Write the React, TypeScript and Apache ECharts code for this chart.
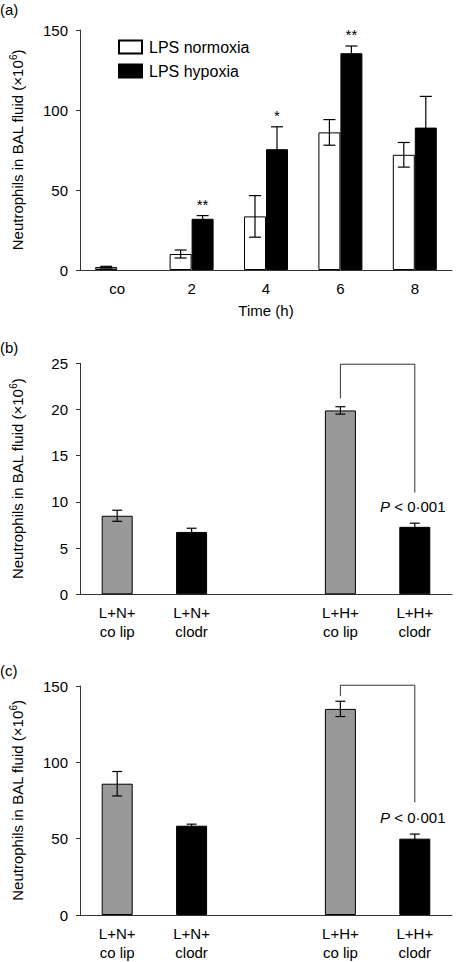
import React, { useEffect, useRef } from 'react';
import * as echarts from 'echarts';

// Panel (a)
const timeCategories = ['co', '2', '4', '6', '8'];
const normoxiaMean = [1.8, 10, 33.5, 86, 72];
const normoxiaErr = [0.5, 2.5, 13, 8, 7.7];
const hypoxiaMean = [null, 32, 75.5, 135.5, 89];
const hypoxiaErr = [null, 2, 14, 4.5, 19.5];
const hypoxiaSignificance = ['', '**', '*', '**', ''];
const panelATicks = [0, 150, 50];

// Panels (b) and (c)
const treatmentCategories = ['L+N+\nco lip', 'L+N+\nclodr', '', 'L+H+\nco lip', 'L+H+\nclodr'];
const treatmentGroup = ['co lip', 'clodr', '', 'co lip', 'clodr'];
const panelBMean = [8.5, 6.75, null, 19.9, 7.3];
const panelBErr = [0.6, 0.4, null, 0.4, 0.4];
const panelBSignificance = ['', '', '', '', 'P < 0·001'];
const panelBBracket = [3, 4, 21.2, 24.9, 11];
const panelBTicks = [0, 25, 5];

const panelCMean = [86, 58.5, null, 135, 50];
const panelCErr = [8, 1, null, 5, 3];
const panelCSignificance = ['', '', '', '', 'P < 0·001'];
const panelCBracket = [3, 4, 143.5, 150.5, 73.7];
const panelCTicks = [0, 150, 50];

const FONT = '"Liberation Sans", Arial, Helvetica, sans-serif';
const AXIS_COLOR = '#333';

const yName = '{a|Neutrophils in BAL fluid (×10}{s|6}{a|)}';
const yNameRich = {
  a: { fontSize: 15, fontFamily: FONT, color: '#000' },
  s: { fontSize: 10, fontFamily: FONT, color: '#000', padding: [0, 0, 8, 0] },
};

function errData(mean: (number | null)[], err: (number | null)[]) {
  return mean.map((m, i) =>
    m == null || err[i] == null ? [i, NaN, NaN] : [i, m - (err[i] as number), m + (err[i] as number)]
  );
}

function groupColor(g: string) {
  return g === 'co lip' ? '#999999' : '#000000';
}

function errSeries(idx: number, data: number[][], offset: number, capHalf: number, labels: string[]) {
  return {
    type: 'custom',
    xAxisIndex: idx,
    yAxisIndex: idx,
    clip: false,
    z: 5,
    encode: { x: 0, y: [1, 2] },
    data,
    renderItem: (params: any, api: any) => {
      const x = api.value(0);
      const lo = api.value(1);
      const hi = api.value(2);
      if (isNaN(lo) || isNaN(hi)) return null;
      const pt = api.coord([x, hi]);
      const pb = api.coord([x, lo]);
      const cx = pt[0] + offset;
      const ls = { stroke: '#000', lineWidth: 1.2 };
      const children: any[] = [
        { type: 'line', shape: { x1: cx, y1: pb[1], x2: cx, y2: pt[1] }, style: ls },
        { type: 'line', shape: { x1: cx - capHalf, y1: pt[1], x2: cx + capHalf, y2: pt[1] }, style: ls },
        { type: 'line', shape: { x1: cx - capHalf, y1: pb[1], x2: cx + capHalf, y2: pb[1] }, style: ls },
      ];
      const lab = labels[params.dataIndex];
      if (lab) {
        const isP = lab.startsWith('P');
        children.push({
          type: 'text',
          style: {
            text: isP ? '{i|P}' + lab.slice(1) : lab,
            x: cx - (isP ? 2 : 0),
            y: pt[1] - (isP ? 9 : 4),
            align: 'center',
            verticalAlign: 'bottom',
            fontSize: 15,
            fontFamily: FONT,
            fill: '#000',
            rich: { i: { fontStyle: 'italic', fontSize: 15, fontFamily: FONT, fill: '#000' } },
          },
        });
      }
      return { type: 'group', children };
    },
  };
}

function bracketSeries(idx: number, b: number[]) {
  return {
    type: 'custom',
    xAxisIndex: idx,
    yAxisIndex: idx,
    clip: false,
    z: 5,
    encode: { x: [0, 1], y: [2, 3, 4] },
    data: [b],
    renderItem: (_params: any, api: any) => {
      const p1 = api.coord([api.value(0), api.value(2)]);
      const p2 = api.coord([api.value(0), api.value(3)]);
      const p3 = api.coord([api.value(1), api.value(3)]);
      const p4 = api.coord([api.value(1), api.value(4)]);
      return {
        type: 'polyline',
        shape: { points: [p1, p2, p3, p4] },
        style: { stroke: AXIS_COLOR, lineWidth: 1, fill: 'none' },
      };
    },
  };
}

function yAxis(idx: number, ticks: number[]) {
  return {
    type: 'value',
    gridIndex: idx,
    min: ticks[0],
    max: ticks[1],
    interval: ticks[2],
    name: yName,
    nameLocation: 'middle',
    nameGap: 54,
    nameTextStyle: { rich: yNameRich },
    axisLine: { show: true, lineStyle: { color: AXIS_COLOR, width: 1 } },
    axisTick: { show: true, length: 4, lineStyle: { color: AXIS_COLOR } },
    axisLabel: { fontSize: 15, color: '#000', fontFamily: FONT, margin: 12 },
    splitLine: { show: false },
  };
}

function xAxis(idx: number, cats: string[], name?: string) {
  return {
    type: 'category',
    gridIndex: idx,
    data: cats,
    name: name || '',
    nameLocation: 'middle',
    nameGap: 33,
    nameTextStyle: { fontSize: 15, color: '#000', fontFamily: FONT },
    axisLine: { show: true, lineStyle: { color: AXIS_COLOR, width: 1 } },
    axisTick: { show: false },
    axisLabel: { fontSize: 15, color: '#000', fontFamily: FONT, margin: 9, lineHeight: 19, interval: 0 },
    splitLine: { show: false },
  };
}

function treatmentBars(idx: number, mean: (number | null)[]) {
  return {
    type: 'bar',
    name: 'panel' + idx,
    xAxisIndex: idx,
    yAxisIndex: idx,
    barWidth: 31,
    data: mean.map((v, i) => ({
      value: v,
      itemStyle: { color: groupColor(treatmentGroup[i]), borderColor: '#000', borderWidth: 1 },
    })),
  };
}

export default function App() {
  const ref = useRef<HTMLDivElement>(null);
  useEffect(() => {
    document.body.style.margin = '0';
    if (!ref.current) return;
    const chart = echarts.init(ref.current, null, { renderer: 'svg' });
    chart.setOption({
      animation: false,
      textStyle: { fontFamily: FONT },
      grid: [
        { left: 77, top: 30, width: 375, height: 240 },
        { left: 77, top: 363.3, width: 375, height: 231 },
        { left: 77, top: 686, width: 375, height: 230.7 },
      ],
      legend: {
        data: ['LPS normoxia', 'LPS hypoxia'],
        left: 113,
        top: 34,
        orient: 'vertical',
        itemWidth: 23,
        itemHeight: 13,
        itemGap: 8,
        icon: 'rect',
        textStyle: { fontSize: 16, color: '#000', fontFamily: FONT, padding: [0, 0, 0, 2] },
      },
      xAxis: [xAxis(0, timeCategories, 'Time (h)'), xAxis(1, treatmentCategories), xAxis(2, treatmentCategories)],
      yAxis: [yAxis(0, panelATicks), yAxis(1, panelBTicks), yAxis(2, panelCTicks)],
      graphic: [
        { type: 'text', left: 0, top: 2, style: { text: '(a)', fontSize: 15, fontFamily: FONT, fill: '#000' } },
        { type: 'text', left: 0, top: 340, style: { text: '(b)', fontSize: 15, fontFamily: FONT, fill: '#000' } },
        { type: 'text', left: 0, top: 663, style: { text: '(c)', fontSize: 15, fontFamily: FONT, fill: '#000' } },
      ],
      series: [
        {
          type: 'bar',
          name: 'LPS normoxia',
          xAxisIndex: 0,
          yAxisIndex: 0,
          barWidth: 22,
          barGap: '0%',
          data: normoxiaMean.map((v, i) => ({
            value: v,
            itemStyle: { color: i === 0 ? '#999999' : '#ffffff', borderColor: '#000', borderWidth: 1 },
          })),
          itemStyle: { color: '#ffffff', borderColor: '#000', borderWidth: 1 },
        },
        {
          type: 'bar',
          name: 'LPS hypoxia',
          xAxisIndex: 0,
          yAxisIndex: 0,
          barWidth: 22,
          barGap: '0%',
          data: hypoxiaMean,
          itemStyle: { color: '#000000', borderColor: '#000', borderWidth: 1 },
        },
        errSeries(0, errData(normoxiaMean, normoxiaErr), -11, 6, ['', '', '', '', '']),
        errSeries(0, errData(hypoxiaMean, hypoxiaErr), 11, 6, hypoxiaSignificance),
        treatmentBars(1, panelBMean),
        errSeries(1, errData(panelBMean, panelBErr), 0, 5, panelBSignificance),
        bracketSeries(1, panelBBracket),
        treatmentBars(2, panelCMean),
        errSeries(2, errData(panelCMean, panelCErr), 0, 5, panelCSignificance),
        bracketSeries(2, panelCBracket),
      ],
    });
    return () => chart.dispose();
  }, []);
  return <div ref={ref} style={{ width: 456, height: 962 }} />;
}
